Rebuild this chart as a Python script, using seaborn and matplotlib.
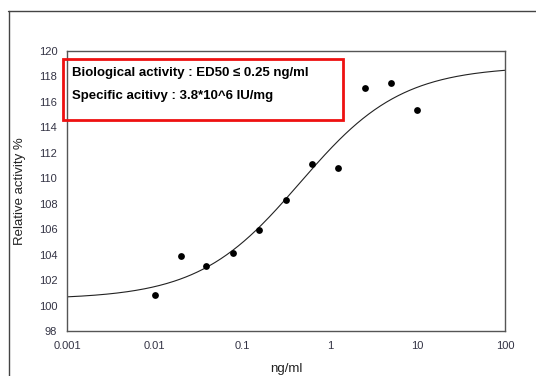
import numpy as np
import pandas as pd
import matplotlib
matplotlib.use("Agg")
import matplotlib.pyplot as plt
import seaborn as sns
from matplotlib.patches import Rectangle
from matplotlib.lines import Line2D
from matplotlib.ticker import NullLocator, FixedLocator, FixedFormatter

# ---- data ----
conc = [0.01, 0.02, 0.039, 0.078, 0.156, 0.3125, 0.625, 1.25, 2.5, 5.0, 10.0]
activity = [100.8, 103.9, 103.1, 104.1, 105.9, 108.3, 111.1, 110.8, 117.1, 117.5, 115.4]

# fitted 4-parameter logistic curve (parameters estimated from the drawn curve)
fit_bottom = 100.5
fit_top = 118.8
fit_log_ec50 = -0.34
fit_hill = 0.75

x_ticks = [0.001, 0.01, 0.1, 1, 10, 100]
x_tick_labels = ["0.001", "0.01", "0.1", "1", "10", "100"]
y_ticks = [98, 100, 102, 104, 106, 108, 110, 112, 114, 116, 118, 120]

box_lines = ["Biological activity : ED50 \u2264 0.25 ng/ml",
             "Specific acitivy : 3.8*10^6 IU/mg"]

sns.set_style("white")
plt.rcParams["font.family"] = ["Liberation Sans", "DejaVu Sans"]

fig = plt.figure(figsize=(5.36, 3.76), dpi=100)
ax = fig.add_axes([67/536, 45/376, 438/536, 280/376])

pts = pd.DataFrame({"conc": conc, "activity": activity})
xs = np.logspace(-3, 2, 300)
ys = fit_bottom + (fit_top - fit_bottom) / (1 + 10 ** (fit_hill * (fit_log_ec50 - np.log10(xs))))
curve = pd.DataFrame({"conc": xs, "activity": ys})

sns.lineplot(data=curve, x="conc", y="activity", ax=ax, color="#222222", linewidth=0.8)
sns.scatterplot(data=pts, x="conc", y="activity", ax=ax, color="black", s=24,
                marker="o", edgecolor="black", linewidth=0, zorder=3)

ax.set_xscale("log")
ax.set_xlim(0.001, 100)
ax.set_ylim(98, 120)
ax.xaxis.set_major_locator(FixedLocator(x_ticks))
ax.xaxis.set_major_formatter(FixedFormatter(x_tick_labels))
ax.xaxis.set_minor_locator(NullLocator())
ax.set_yticks(y_ticks)
ax.set_yticklabels([str(v) for v in y_ticks])

for s in ax.spines.values():
    s.set_color("#555555")
    s.set_linewidth(1.0)
    s.set_visible(True)

ax.tick_params(axis="both", which="major", direction="out", length=4, width=0.9,
               color="#444444", labelsize=8, labelcolor="#333344", pad=3)

ax.set_xlabel("ng/ml", fontsize=9.5, color="#222222", labelpad=9)
ax.set_ylabel("Relative activity %", fontsize=9.5, color="#222222", labelpad=9)

# red annotation box
fig.patches.append(Rectangle((62.5/536, 1 - 120/376), (343 - 62.5)/536, (120 - 58.5)/376,
                             transform=fig.transFigure, fill=False,
                             edgecolor="#ee1111", linewidth=2.0, zorder=5))
fig.text(72/536, 1 - 73/376, box_lines[0], fontsize=9.5, fontweight="bold",
         color="black", va="center", ha="left")
fig.text(72/536, 1 - 96/376, box_lines[1], fontsize=9.5, fontweight="bold",
         color="black", va="center", ha="left")

# outer frame (top and left edges)
fig.add_artist(Line2D([8/536, 1.0], [1 - 10.5/376, 1 - 10.5/376], transform=fig.transFigure,
                      color="#444444", linewidth=1.0))
fig.add_artist(Line2D([8.5/536, 8.5/536], [0, 1 - 10.5/376], transform=fig.transFigure,
                      color="#444444", linewidth=1.0))

fig.savefig("out.png", dpi=100)
